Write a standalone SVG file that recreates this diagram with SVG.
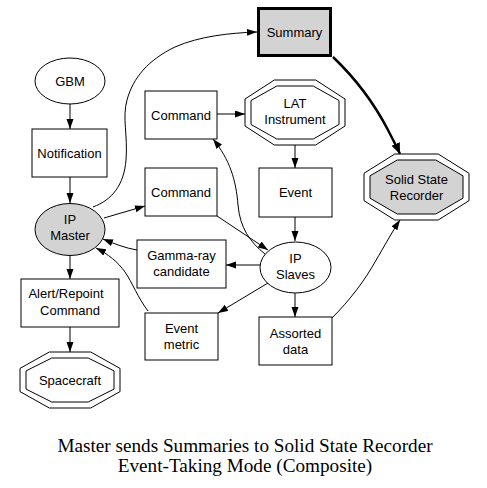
<svg xmlns="http://www.w3.org/2000/svg" width="487" height="488" viewBox="0 0 487 488">
<defs>
<marker id="ah" markerUnits="userSpaceOnUse" markerWidth="11" markerHeight="8" refX="10" refY="3.5" orient="auto" viewBox="0 0 11 8">
<path d="M0,0 L10,3.5 L0,7 z" fill="#000"/>
</marker>
<marker id="ahb" markerUnits="userSpaceOnUse" markerWidth="13" markerHeight="10" refX="11" refY="4.5" orient="auto" viewBox="0 0 13 10">
<path d="M0,0 L11,4.5 L0,9 z" fill="#000"/>
</marker>
<style>
.n{fill:#fff;stroke:#000;stroke-width:1}
.g{fill:#d3d3d3;stroke:#000;stroke-width:1}
.t{font-family:"Liberation Sans",Arial,sans-serif;font-size:13px;text-anchor:middle;fill:#000}
.e{fill:none;stroke:#000;stroke-width:1;marker-end:url(#ah)}
.title{font-family:"Liberation Serif","Times New Roman",serif;font-size:19.2px;text-anchor:middle;fill:#000}
</style>
</defs>
<rect width="487" height="488" fill="#fff"/>
<g id="connectors">
<path class="e" d="M70,104 L70,129"/>
<path class="e" d="M70,177 L70,203"/>
<path class="e" d="M93,207 C112,200 124,185 126,160 C128,135 122,118 127,100 C133,78 148,60 175,47 C200,36 230,33 257,32"/>
<path class="e" d="M104,218 L145,206"/>
<path class="e" d="M217,114 L245,114"/>
<path class="e" d="M295,145 L295,168"/>
<path class="e" d="M295,217 L295,241"/>
<path d="M333,57 C355,78 375,105 388,130 C393,140 397,147 400,154" fill="none" stroke="#000" stroke-width="2.5" marker-end="url(#ahb)"/>
<path class="e" d="M217,216 L268,250"/>
<path class="e" d="M265,254 C250,242 240,228 238,205 C236,180 230,160 213,139"/>
<path class="e" d="M260,265 L226,265"/>
<path class="e" d="M137,250 C125,248 115,244 103,239"/>
<path class="e" d="M148,311 C138,298 132,282 125,272 C118,262 108,254 96,248"/>
<path class="e" d="M268,283 L218,313"/>
<path class="e" d="M295,293 L295,317"/>
<path class="e" d="M332,318 C350,300 365,280 375,262 C385,245 392,232 400,220"/>
<path class="e" d="M70,256 L70,279"/>
<path class="e" d="M70,327 L70,352"/>
</g>
<g id="gbm">
<ellipse class="n" cx="70" cy="81" rx="35" ry="23"/>
<text class="t" x="70" y="86">GBM</text>
</g>
<g id="notification">
<rect class="n" x="32" y="129" width="75" height="48"/>
<text class="t" x="69.5" y="158">Notification</text>
</g>
<g id="ip-master">
<ellipse class="g" cx="70" cy="229.5" rx="35" ry="26"/>
<text class="t" x="70" y="224">IP</text>
<text class="t" x="70" y="240">Master</text>
</g>
<g id="summary">
<rect x="258.5" y="8.5" width="72" height="47" fill="#d3d3d3" stroke="#000" stroke-width="3"/>
<text class="t" x="294.5" y="37">Summary</text>
</g>
<g id="command1">
<rect class="n" x="145" y="91" width="72" height="48"/>
<text class="t" x="181" y="120">Command</text>
</g>
<g id="command2">
<rect class="n" x="145" y="168" width="72" height="48"/>
<text class="t" x="181" y="197">Command</text>
</g>
<g id="lat-instrument">
<polygon class="n" points="274.3,80 315.7,80 345,99 345,126 315.7,145 274.3,145 245,126 245,99"/>
<polygon class="n" points="276.8,86 313.2,86 339,100.5 339,124.5 313.2,139 276.8,139 251,124.5 251,100.5"/>
<text class="t" x="295" y="108">LAT</text>
<text class="t" x="295" y="124">Instrument</text>
</g>
<g id="event">
<rect class="n" x="259" y="168" width="73" height="49"/>
<text class="t" x="295.5" y="197">Event</text>
</g>
<g id="solid-state-recorder">
<polygon class="n" points="394.8,154 438.2,154 469,173.3 469,200.7 438.2,220 394.8,220 364,200.7 364,173.3"/>
<polygon class="g" points="397.2,160 435.8,160 463,175.8 463,198.2 435.8,214 397.2,214 370,198.2 370,175.8"/>
<text class="t" x="416.5" y="184">Solid State</text>
<text class="t" x="416.5" y="200">Recorder</text>
</g>
<g id="ip-slaves">
<ellipse class="n" cx="295.5" cy="267.5" rx="35.5" ry="25.5"/>
<text class="t" x="295.5" y="263">IP</text>
<text class="t" x="295.5" y="279">Slaves</text>
</g>
<g id="gamma-ray-candidate">
<rect class="n" x="137" y="240" width="89" height="48"/>
<text class="t" x="181.5" y="260">Gamma-ray</text>
<text class="t" x="181.5" y="276">candidate</text>
</g>
<g id="event-metric">
<rect class="n" x="145" y="313" width="73" height="47"/>
<text class="t" x="181.5" y="333">Event</text>
<text class="t" x="181.5" y="349">metric</text>
</g>
<g id="alert-repoint-command">
<rect class="n" x="21" y="279" width="98" height="48"/>
<text class="t" x="66" y="298">Alert/Repoint</text>
<text class="t" x="70" y="315">Command</text>
</g>
<g id="assorted-data">
<rect class="n" x="259" y="317" width="73" height="48"/>
<text class="t" x="295.5" y="338">Assorted</text>
<text class="t" x="295.5" y="354">data</text>
</g>
<g id="spacecraft">
<polygon class="n" points="49.3,352 90.7,352 120,368.4 120,391.6 90.7,408 49.3,408 20,391.6 20,368.4"/>
<polygon class="n" points="51.8,358 88.2,358 114,370.9 114,389.1 88.2,402 51.8,402 26,389.1 26,370.9"/>
<text class="t" x="70" y="385">Spacecraft</text>
</g>
<g id="title">
<text class="title" x="245" y="452">Master sends Summaries to Solid State Recorder</text>
<text class="title" x="245" y="472">Event-Taking Mode (Composite)</text>
</g>
</svg>
